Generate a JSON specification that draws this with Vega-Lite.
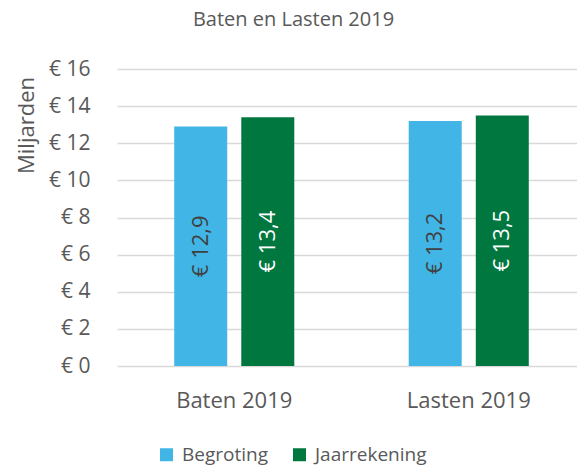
{
  "$schema": "https://vega.github.io/schema/vega-lite/v6.json",
  "autosize": "none",
  "width": 469,
  "height": 297,
  "padding": {"left": 117, "top": 69, "right": 0, "bottom": 100},
  "config": {
    "font": "Open Sans",
    "view": {"stroke": null},
    "locale": {"number": {"decimal": ",", "thousands": ".", "grouping": [3], "currency": ["€ ", ""]}}
  },
  "title": {"text": "Baten en Lasten 2019", "fontSize": 20, "fontWeight": "normal", "color": "#595959", "anchor": "middle", "dx": -58, "offset": 12, "baseline": "alphabetic"},
  "data": {"values": [
    {"post": "Baten 2019", "soort": "Begroting", "waarde": 12.9},
    {"post": "Baten 2019", "soort": "Jaarrekening", "waarde": 13.4},
    {"post": "Lasten 2019", "soort": "Begroting", "waarde": 13.2},
    {"post": "Lasten 2019", "soort": "Jaarrekening", "waarde": 13.5}
  ]},
  "encoding": {
    "x": {"field": "post", "type": "nominal", "sort": null,
      "scale": {"paddingInner": 0.488, "paddingOuter": 0.244},
      "axis": {"title": null, "labelAngle": 0, "labelFontSize": 22, "labelColor": "#595959", "labelPadding": 24, "ticks": false, "domain": false}},
    "xOffset": {"field": "soort", "type": "nominal", "sort": ["Begroting", "Jaarrekening"], "scale": {"paddingInner": 0.21, "paddingOuter": 0}},
    "y": {"field": "waarde", "type": "quantitative", "stack": "zero", "scale": {"domain": [0, 16]},
      "axis": {"values": [0, 2, 4, 6, 8, 10, 12, 14, 16], "format": "$d", "labelFontSize": 21, "labelColor": "#595959", "labelPadding": 27, "ticks": false, "domain": false,
        "gridColor": "#D9D9D9", "gridWidth": 1.5,
        "title": "Miljarden", "titleFontSize": 22, "titleFontWeight": "normal", "titleColor": "#595959", "titleAngle": -90, "titleX": -91, "titleY": 56, "titleAlign": "center", "titleBaseline": "middle"}}
  },
  "layer": [
    {
      "mark": {"type": "bar"},
      "encoding": {
        "color": {"field": "soort", "type": "nominal", "sort": ["Begroting", "Jaarrekening"],
          "scale": {"range": ["#41B6E6", "#00773F"]},
          "legend": {"title": null, "orient": "none", "direction": "horizontal", "legendX": 40, "legendY": 376, "symbolType": "square", "symbolSize": 169, "symbolStrokeWidth": 0, "labelFontSize": 19, "labelColor": "#595959", "columnPadding": 22, "labelOffset": 6}}
      }
    },
    {
      "mark": {"type": "text", "angle": 270, "align": "center", "baseline": "middle", "fontSize": 22},
      "encoding": {
        "y": {"field": "waarde", "type": "quantitative", "stack": "zero", "bandPosition": 0.5},
        "text": {"field": "waarde", "type": "quantitative", "format": "$.1f"},
        "color": {"field": "soort", "type": "nominal", "sort": ["Begroting", "Jaarrekening"], "scale": {"range": ["#404040", "#FFFFFF"]}, "legend": null}
      }
    }
  ],
  "resolve": {"scale": {"color": "independent"}}
}
